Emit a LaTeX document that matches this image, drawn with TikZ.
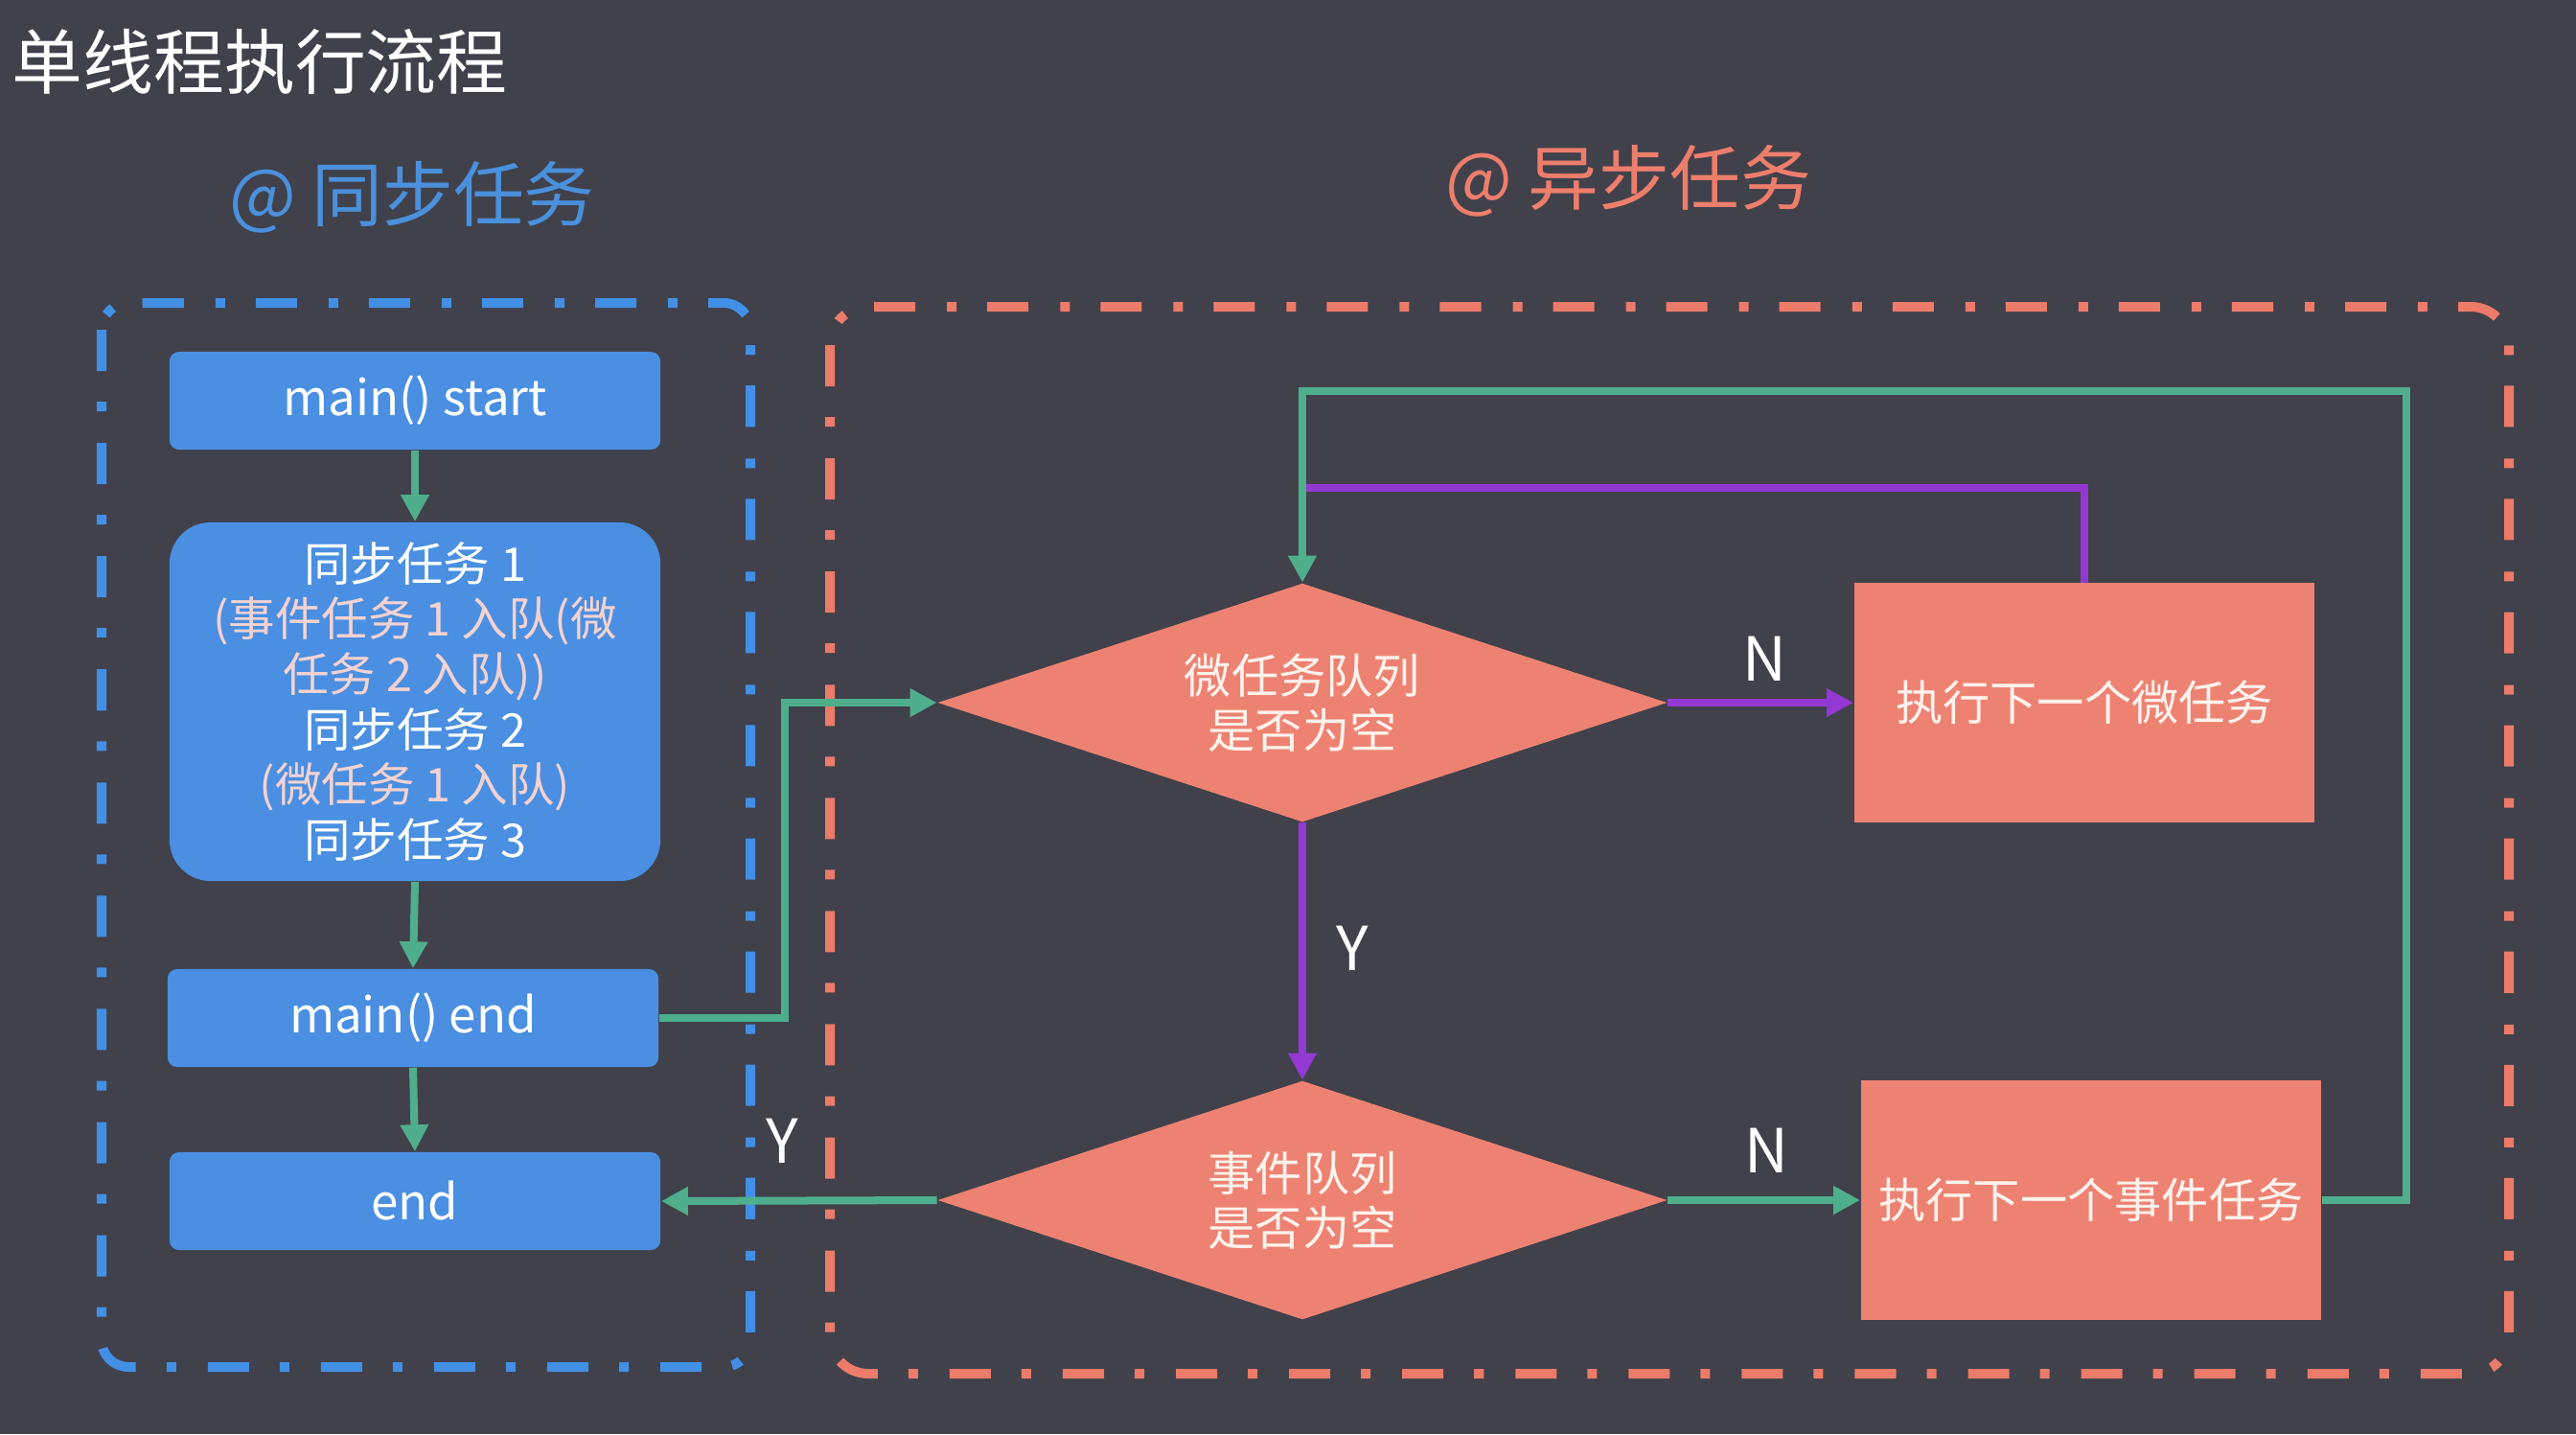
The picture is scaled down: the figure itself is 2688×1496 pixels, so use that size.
\documentclass[tikz,border=0pt]{standalone}
\usepackage{fontspec}
\newfontfamily\cjk{Noto Sans CJK SC}
\usetikzlibrary{arrows.meta,shapes.geometric,calc}
\definecolor{bg}{HTML}{40414B}
\definecolor{bluebox}{HTML}{4A8FE2}
\definecolor{bluedash}{HTML}{428FE6}
\definecolor{salmon}{HTML}{EE8272}
\definecolor{orangedash}{HTML}{EC7B6A}
\definecolor{greenl}{HTML}{4FAE8C}
\definecolor{purplel}{HTML}{9339D2}
\definecolor{pinktext}{HTML}{F4D2D0}
\definecolor{bluetitle}{HTML}{4A90DC}
\definecolor{orangetitle}{HTML}{EE7E6C}
\definecolor{softwhite}{HTML}{FDF2EC}
\begin{document}
\begin{tikzpicture}[x=0.01cm,y=-0.01cm,
  bluenode/.style={fill=bluebox, rounded corners=0.1cm, minimum width=5.12cm, minimum height=1.02cm,
    text=white, font=\cjk\fontsize{14.5}{17}\selectfont, inner sep=0pt, align=center},
  decision/.style={diamond, shape aspect=3.06, fill=salmon, minimum width=7.61cm, minimum height=2.49cm, inner sep=0pt,
    text=softwhite, font=\cjk\fontsize{14}{16.3}\selectfont, align=center},
  taskbox/.style={rectangle, fill=salmon, minimum width=4.8cm, minimum height=2.49cm, inner sep=0pt,
    text=softwhite, font=\cjk\fontsize{14}{16.3}\selectfont, align=center},
  dashbox/.style={line width=0.1cm, dash pattern=on 0.43cm off 0.32cm on 0.1cm off 0.33cm},
  garr/.style={draw=greenl, line width=0.08cm, -{Triangle[length=0.28cm,width=0.28cm]}},
  gline/.style={draw=greenl, line width=0.08cm},
  parr/.style={draw=purplel, line width=0.08cm, -{Triangle[length=0.28cm,width=0.28cm]}},
  pline/.style={draw=purplel, line width=0.08cm},
  lbl/.style={text=white, font=\cjk\fontsize{18}{20}\selectfont, inner sep=0pt},
  heading/.style={font=\cjk\fontsize{21}{24}\selectfont, inner sep=0pt}
]
\useasboundingbox (0,0) rectangle (2688,1496);
\fill[bg] (0,0) rectangle (2688,1496);

% titles
\node[heading, text=white, anchor=west] (title) at (12,64) {单线程执行流程};
\node[heading, text=bluetitle] (synctitle) at (430,206) {@ 同步任务};
\node[heading, text=orangetitle] (asynctitle) at (1699,189) {@ 异步任务};

% dashed group boxes
\draw[dashbox, draw=bluedash, rounded corners=0.28cm] (106,316) rectangle (783,1426);
\draw[dashbox, draw=orangedash, rounded corners=0.4cm] (866,320) rectangle (2618,1433);

% sync nodes
\node[bluenode] (ms) at (433,418) {main() start};
\node[bluenode, minimum height=3.74cm, rounded corners=0.43cm, font=\cjk\fontsize{13.8}{16.4}\selectfont] (sync) at (433,732)
  {同步任务 1\\
   \textcolor{pinktext}{(事件任务 1 入队(微}\\
   \textcolor{pinktext}{任务 2 入队))}\\
   同步任务 2\\
   \textcolor{pinktext}{(微任务 1 入队)}\\
   同步任务 3};
\node[bluenode] (me) at (431,1062) {main() end};
\node[bluenode] (en) at (433,1253) {end};

% async nodes
\node[decision] (d1) at (1359,733) {微任务队列\\是否为空};
\node[decision] (d2) at (1359,1252) {事件队列\\是否为空};
\node[taskbox] (r1) at (2175,733) {执行下一个微任务};
\node[taskbox] (r2) at (2182,1252) {执行下一个事件任务};

% helper coordinates
\coordinate (cm) at (819,1062);
\coordinate (cg) at (2511,408);
\coordinate (cp) at (1359,509);

% connectors
\draw[garr] (ms.south) -- (sync.north);
\draw[garr] (sync.south) -- (me.north);
\draw[garr] (me.south) -- (en.north);
\draw[garr] (me.east) -- (cm) |- (d1.west);
\draw[pline] (r1.north) |- (cp);
\draw[garr] (r2.east) -| (cg) -| (d1.north);
\draw[parr] (d1.east) -- (r1.west);
\draw[parr] (d1.south) -- (d2.north);
\draw[garr] (d2.east) -- (r2.west);
\draw[garr] (d2.west) -- (en.east);

% labels
\node[lbl] (n1) at (1841,687) {N};
\node[lbl] (y1) at (1411,989) {Y};
\node[lbl] (n2) at (1843,1200) {N};
\node[lbl] (y2) at (816,1190) {Y};
\end{tikzpicture}
\end{document}
